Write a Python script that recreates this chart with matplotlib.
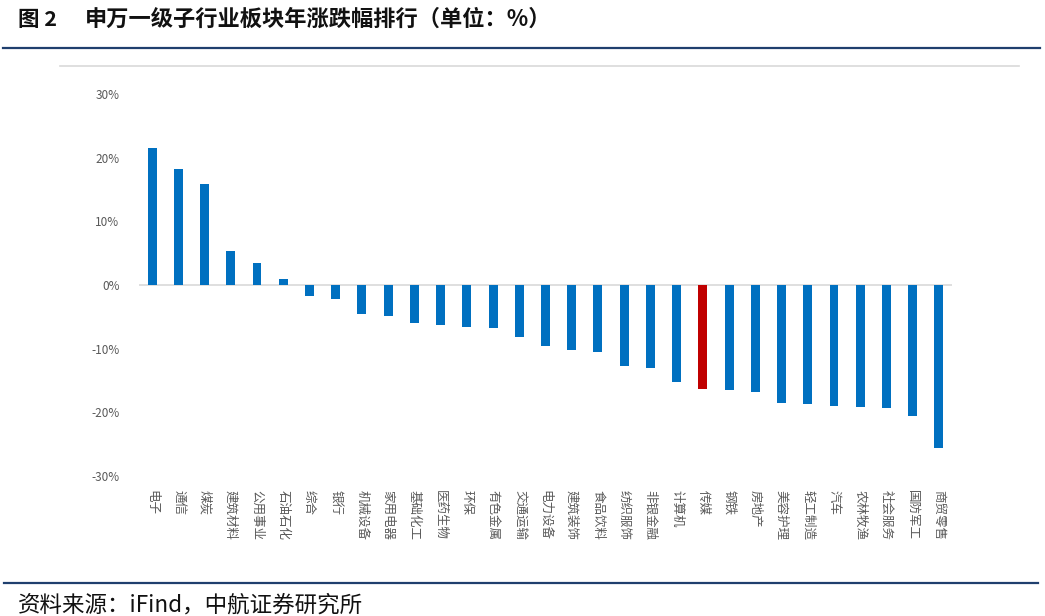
import matplotlib
matplotlib.use("Agg")
import matplotlib.pyplot as plt
from matplotlib.lines import Line2D
from matplotlib.ticker import FuncFormatter

plt.rcParams['font.family'] = ['Noto Sans CJK SC', 'DejaVu Sans']

categories = ["电子", "通信", "煤炭", "建筑材料", "公用事业", "石油石化", "综合", "银行",
              "机械设备", "家用电器", "基础化工", "医药生物", "环保", "有色金属", "交通运输",
              "电力设备", "建筑装饰", "食品饮料", "纺织服饰", "非银金融", "计算机", "传媒",
              "钢铁", "房地产", "美容护理", "轻工制造", "汽车", "农林牧渔", "社会服务",
              "国防军工", "商贸零售"]
values = [21.5, 18.2, 15.8, 5.4, 3.5, 1.0, -1.7, -2.2,
          -4.6, -4.9, -6.0, -6.3, -6.6, -6.8, -8.2,
          -9.6, -10.2, -10.5, -12.7, -13.0, -15.3, -16.4,
          -16.5, -16.8, -18.5, -18.7, -19.0, -19.2, -19.3,
          -20.5, -25.6]
highlight = "传媒"
y_ticks = [-30, -20, -10, 0, 10, 20, 30]

title_no = "图 2"
title = "申万一级子行业板块年涨跌幅排行（单位：%）"
source = "资料来源：iFind，中航证券研究所"

W, H = 1045, 616
fig = plt.figure(figsize=(W / 100, H / 100), dpi=100)

# axes placement (pixels)
ax_left, ax_right, ax_top, ax_bottom = 139, 952, 94, 476
ax = fig.add_axes([ax_left / W, 1 - ax_bottom / H, (ax_right - ax_left) / W, (ax_bottom - ax_top) / H])

blue = "#0070C0"
red = "#C00000"
colors = [red if c == highlight else blue for c in categories]
x = list(range(len(categories)))
ax.bar(x, values, width=0.34, color=colors, zorder=3)
ax.axhline(0, color="#D9D9D9", lw=1.2, zorder=2)

ax.set_xlim(-0.5, len(categories) - 0.5)
ax.set_ylim(y_ticks[0], y_ticks[-1])
ax.set_yticks(y_ticks)
ax.yaxis.set_major_formatter(FuncFormatter(lambda v, p: f"{int(v)}%"))
ax.set_xticks(x)
ax.set_xticklabels(categories, rotation=270, va="top", ha="center")
ax.tick_params(axis="x", length=0, pad=10, labelsize=9, labelcolor="#595959")
ax.tick_params(axis="y", length=0, pad=14, labelsize=8.5, labelcolor="#595959")
for s in ax.spines.values():
    s.set_visible(False)

# decorations
def hline(y, x0, x1, color, lw):
    fig.add_artist(Line2D([x0 / W, x1 / W], [1 - y / H, 1 - y / H], color=color, lw=lw,
                          transform=fig.transFigure))

hline(47.5, 3, 1040, "#1F3F6E", 1.6)
hline(66, 60, 1019, "#D9D9D9", 1.2)
hline(582.5, 4, 1038, "#1F3F6E", 1.6)

fig.text(18 / W, 1 - 19 / H, title_no, fontsize=15.5, fontweight="bold", va="center", ha="left",
         color="#111111")
fig.text(85 / W, 1 - 19 / H, title, fontsize=16, fontweight="bold", va="center", ha="left",
         color="#111111")
fig.text(18 / W, 1 - 605 / H, source, fontsize=16.2, va="center", ha="left", color="#111111")

fig.savefig("out.png", dpi=100)
